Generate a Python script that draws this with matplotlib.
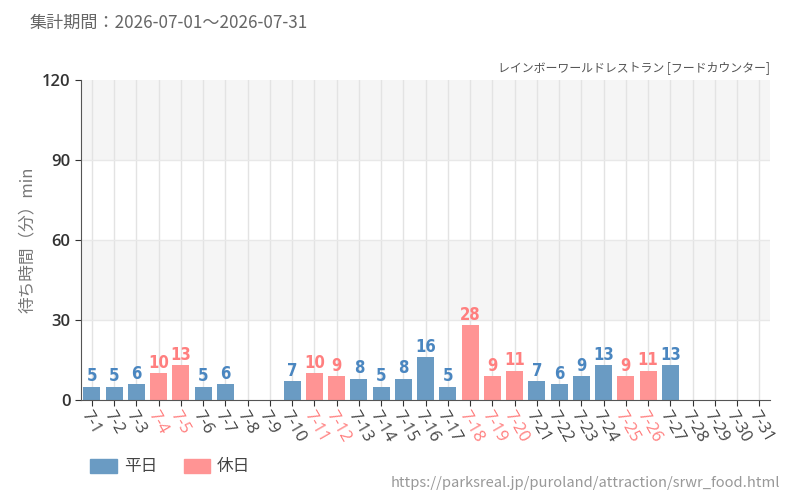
import numpy as np
import matplotlib.pyplot as plt
from matplotlib.patches import Patch
from matplotlib import font_manager

plt.rcParams['font.family'] = ['Noto Sans CJK JP', 'DejaVu Sans']

days = [f"7-{d}" for d in range(1, 32)]
# waiting time (min); None = no data
waits = [5, 5, 6, 10, 13, 5, 6, None, None, 7, 10, 9, 8, 5, 8, 16, 5, 28, 9, 11,
         7, 6, 9, 13, 9, 11, 13, None, None, None, None]
holidays = ["7-4", "7-5", "7-11", "7-12", "7-18", "7-19", "7-20", "7-25", "7-26"]

blue = "#6a9bc3"
blue_txt = "#4a86c0"
pink = "#ff9494"
pink_txt = "#ff7f7f"

# narrow font for the value labels if one is around
names = {f.name for f in font_manager.fontManager.ttflist}
narrow = "Liberation Sans Narrow" if "Liberation Sans Narrow" in names else "DejaVu Sans"

fig = plt.figure(figsize=(8, 5), dpi=100)
ax = fig.add_axes([0.101, 0.2, 0.862, 0.64])

x = np.arange(len(days))
ax.set_xlim(-0.5, len(days) - 0.5)
ax.set_ylim(0, 120)

# alternating bands
for lo, hi, c in [(0, 30, "white"), (30, 60, "#f5f5f5"), (60, 90, "white"), (90, 120, "#f5f5f5")]:
    ax.axhspan(lo, hi, color=c, zorder=0, lw=0)
for xi in x:
    ax.axvline(xi, color="#e3e3e3", lw=1, zorder=1)
for yv in [30, 60, 90]:
    ax.axhline(yv, color="#e8e8e8", lw=1, zorder=1)

for xi, d, v in zip(x, days, waits):
    if v is None:
        continue
    hol = d in holidays
    ax.bar(xi, v, 0.76, color=pink if hol else blue, zorder=2)
    ax.text(xi, v + 0.5, str(v), ha="center", va="bottom", fontsize=12,
            color=pink_txt if hol else blue_txt, family=narrow,
            fontstretch="condensed", fontweight="bold", zorder=3)

ax.set_yticks([0, 30, 60, 90, 120])
ax.set_yticklabels(["0", "30", "60", "90", "120"], fontsize=12, color="#333", family="Open Sans",
                   fontweight="semibold")
ax.set_xticks(x)
ax.set_xticklabels(days, rotation=-60, ha="left", va="top", rotation_mode="anchor",
                   fontsize=12, family="Open Sans")
for lbl, d in zip(ax.get_xticklabels(), days):
    lbl.set_color(pink_txt if d in holidays else "#444")

for s in ["top", "right"]:
    ax.spines[s].set_visible(False)
for s in ["left", "bottom"]:
    ax.spines[s].set_color("#555")
ax.tick_params(axis="both", color="#333", length=4)
ax.tick_params(axis="x", pad=2)

ax.set_ylabel("待ち時間（分）min", fontsize=12, color="#777", labelpad=4)

fig.text(0.037, 0.955, "集計期間：2026-07-01～2026-07-31", fontsize=12.3, color="#666",
         va="center")
fig.text(0.962, 0.865, "レインボーワールドレストラン [フードカウンター]", fontsize=8.6, color="#555",
         ha="right", va="center")
fig.text(0.975, 0.034, "https://parksreal.jp/puroland/attraction/srwr_food.html",
         fontsize=10.6, color="#999", ha="right", va="center")

handles = [Patch(color=blue, label="平日"), Patch(color=pink, label="休日")]
fig.legend(handles=handles, loc="center left", bbox_to_anchor=(0.113, 0.066), ncol=2,
           frameon=False, fontsize=12, handlelength=1.6, handleheight=0.9,
           columnspacing=1.6, handletextpad=0.4, labelcolor="#444",
           borderpad=0, borderaxespad=0)

plt.savefig("out.png", dpi=100)
